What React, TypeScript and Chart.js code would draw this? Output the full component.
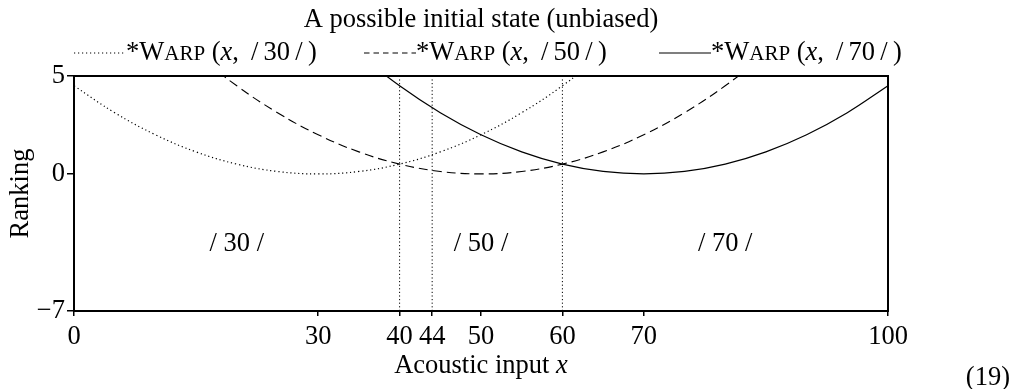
import React, { useEffect, useRef } from 'react';
import { Chart, registerables } from 'chart.js';

Chart.register(...registerables);

// ---- data ----
const chartTitle = 'A possible initial state (unbiased)';
const xAxisTitle = 'Acoustic input ';
const xAxisVar = 'x';
const yAxisTitle = 'Ranking';
const exampleNumber = '(19)';

const xMin = 0;
const xMax = 100;
const yMin = -7;
const yMax = 5;
const xTickValues = [0, 30, 40, 44, 50, 60, 70, 100];
const yTickValues = [-7, 0, 5];

const categoryTags = ['30', '50', '70'];

const curveX30 = [0, 5, 10, 15, 20, 25, 30, 35, 40, 45, 50, 55, 60, 65, 70];
const curveY30 = [4.5, 3.125, 2.0, 1.125, 0.5, 0.125, 0, 0.125, 0.5, 1.125, 2.0, 3.125, 4.5, 6.125, 8.0];

const curveX50 = [10, 15, 20, 25, 30, 35, 40, 45, 50, 55, 60, 65, 70, 75, 80, 85, 90];
const curveY50 = [8.0, 6.125, 4.5, 3.125, 2.0, 1.125, 0.5, 0.125, 0, 0.125, 0.5, 1.125, 2.0, 3.125, 4.5, 6.125, 8.0];

const curveX70 = [30, 35, 40, 45, 50, 55, 60, 65, 70, 75, 80, 85, 90, 95, 100];
const curveY70 = [8.0, 6.125, 4.5, 3.125, 2.0, 1.125, 0.5, 0.125, 0, 0.125, 0.5, 1.125, 2.0, 3.125, 4.5];

const boundaryX = [40, 44, 60];

const regionLabelX = [20, 50, 80];
const regionLabelY = -3.5;

// ---- styling ----
const FONT = "'Liberation Serif', 'Times New Roman', serif";
const SIZE = 26.5;
const F = `${SIZE}px ${FONT}`;
const FI = `italic ${SIZE}px ${FONT}`;
const FSC = `${Math.round(SIZE * 0.8)}px ${FONT}`;

const dashes = [[1.2, 2.8], [9, 5], []];
const legendDashes = [[1.2, 2.8], [5.5, 4], []];
const widths = [1.2, 1.1, 1.2];

type Run = { t: string; f: string };

function drawRuns(ctx: CanvasRenderingContext2D, runs: Run[], x: number, y: number, align: 'left' | 'center' | 'right') {
  let total = 0;
  const ws = runs.map((r) => {
    ctx.font = r.f;
    const w = ctx.measureText(r.t).width;
    total += w;
    return w;
  });
  let cx = align === 'center' ? x - total / 2 : align === 'right' ? x - total : x;
  ctx.textAlign = 'left';
  runs.forEach((r, i) => {
    ctx.font = r.f;
    ctx.fillText(r.t, cx, y);
    cx += ws[i];
  });
  return total;
}

const legendStarts = [74, 364, 659];
const legendSample = 52;

const decorPlugin = {
  id: 'decor',
  afterDraw(chart: any) {
    const { ctx, chartArea: a, scales } = chart;
    ctx.save();
    ctx.fillStyle = '#000';
    ctx.strokeStyle = '#000';
    // box
    ctx.lineWidth = 2;
    ctx.setLineDash([]);
    ctx.strokeRect(a.left, a.top, a.right - a.left, a.bottom - a.top);

    ctx.textBaseline = 'alphabetic';
    // title
    drawRuns(ctx, [{ t: chartTitle, f: F }], (a.left + a.right) / 2, 27, 'center');

    // legend
    const legendBase = 60;
    categoryTags.forEach((tag, i) => {
      const x0 = legendStarts[i];
      ctx.save();
      ctx.lineWidth = widths[i];
      ctx.setLineDash(legendDashes[i]);
      ctx.beginPath();
      ctx.moveTo(x0, legendBase - 7);
      ctx.lineTo(x0 + legendSample, legendBase - 7);
      ctx.stroke();
      ctx.restore();
      drawRuns(
        ctx,
        [
          { t: '*W', f: F },
          { t: 'ARP', f: FSC },
          { t: ' (', f: F },
          { t: 'x', f: FI },
          { t: ', \u2009/\u2009' + tag + '\u2009/\u2009)', f: F },
        ],
        x0 + legendSample,
        legendBase,
        'left'
      );
    });

    // region labels
    const xs = scales.x;
    const ys = scales.y;
    categoryTags.forEach((tag, i) => {
      const px = xs.getPixelForValue(regionLabelX[i]);
      const py = ys.getPixelForValue(regionLabelY);
      drawRuns(ctx, [{ t: '/ ' + tag + ' /', f: F }], px, py + 9, 'center');
    });

    // x axis title
    drawRuns(ctx, [{ t: xAxisTitle, f: F }, { t: xAxisVar, f: FI }], (a.left + a.right) / 2, 373, 'center');

    // y axis title
    ctx.save();
    ctx.translate(28, (a.top + a.bottom) / 2);
    ctx.rotate(-Math.PI / 2);
    drawRuns(ctx, [{ t: yAxisTitle, f: F }], 0, 0, 'center');
    ctx.restore();

    // example number
    drawRuns(ctx, [{ t: exampleNumber, f: F }], 1010, 385, 'right');
    ctx.restore();
  },
};

export default function App() {
  const ref = useRef<HTMLCanvasElement>(null);
  useEffect(() => {
    if (!ref.current) return;
    const mk = (xs: number[], ys: number[]) => xs.map((x, i) => ({ x, y: ys[i] }));
    const curveSets = [mk(curveX30, curveY30), mk(curveX50, curveY50), mk(curveX70, curveY70)];
    const datasets: any[] = curveSets.map((d, i) => ({
      label: '*Warp (x, /' + categoryTags[i] + '/)',
      data: d,
      borderColor: '#000',
      borderWidth: widths[i],
      borderDash: dashes[i],
      pointRadius: 0,
      tension: 0.4,
      fill: false,
    }));
    boundaryX.forEach((b) => {
      datasets.push({
        label: 'boundary ' + b,
        data: [
          { x: b, y: yMin },
          { x: b, y: yMax },
        ],
        borderColor: '#000',
        borderWidth: 1,
        borderDash: [1.2, 2.4],
        pointRadius: 0,
        fill: false,
      });
    });

    const chart = new Chart(ref.current, {
      type: 'line',
      data: { datasets },
      plugins: [decorPlugin],
      options: {
        animation: false,
        responsive: false,
        devicePixelRatio: 1,
        layout: { padding: { left: 0, right: 132, top: 76, bottom: 0 } },
        plugins: { legend: { display: false }, title: { display: false }, tooltip: { enabled: false } },
        scales: {
          x: {
            type: 'linear',
            min: xMin,
            max: xMax,
            afterFit: (s: any) => {
              s.height = 78;
            },
            afterBuildTicks: (s: any) => {
              s.ticks = xTickValues.map((v) => ({ value: v }));
            },
            ticks: {
              autoSkip: false,
              maxRotation: 0,
              color: '#000',
              padding: 5,
              font: { family: FONT, size: SIZE },
              callback: (v: any) => String(v),
            },
            grid: { display: true, drawOnChartArea: false, drawTicks: true, tickLength: 5, color: '#000', lineWidth: 1.5 },
            border: { display: true, color: '#000', width: 2 },
          },
          y: {
            type: 'linear',
            min: yMin,
            max: yMax,
            afterFit: (s: any) => {
              s.width = 74;
            },
            afterBuildTicks: (s: any) => {
              s.ticks = yTickValues.map((v) => ({ value: v }));
            },
            ticks: {
              color: '#000',
              padding: 2,
              font: { family: FONT, size: SIZE },
              callback: (v: any) => (Number(v) < 0 ? '\u2212' + Math.abs(Number(v)) : String(v)),
            },
            grid: { display: true, drawOnChartArea: false, drawTicks: true, tickLength: 7, color: '#000', lineWidth: 1.5 },
            border: { display: true, color: '#000', width: 2 },
          },
        },
      },
    });
    return () => chart.destroy();
  }, []);

  return (
    <div style={{ position: 'absolute', left: 0, top: 0, width: 1020, height: 389, background: '#fff' }}>
      <canvas ref={ref} width={1020} height={389} style={{ display: 'block', width: 1020, height: 389 }} />
    </div>
  );
}
